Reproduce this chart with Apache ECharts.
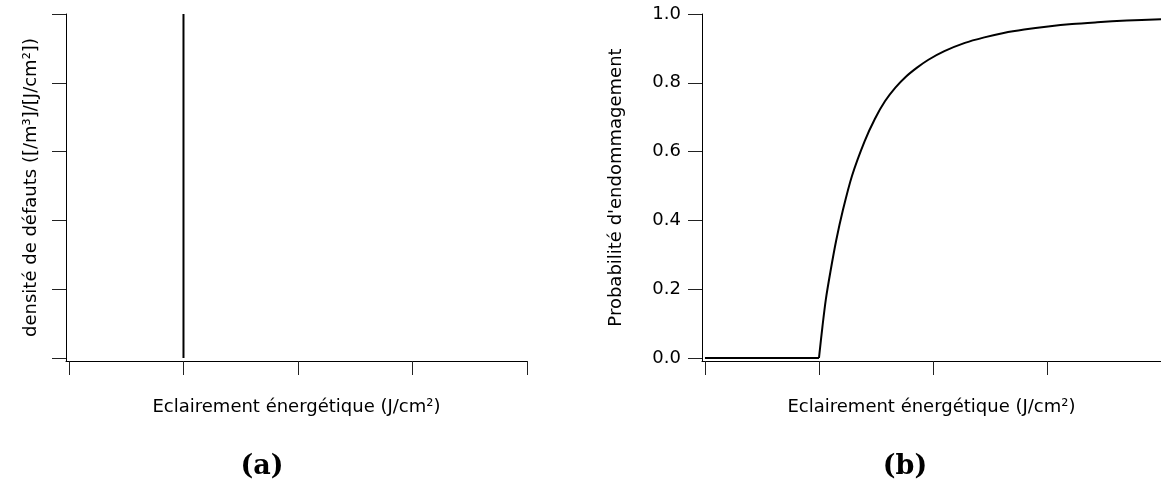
<!DOCTYPE html>
<html>
<head>
<meta charset="utf-8">
<script src="https://cdn.jsdelivr.net/npm/echarts@6/dist/echarts.min.js"></script>
<style>
  html, body { margin: 0; padding: 0; background: #fff; }
  #chart { width: 1161px; height: 482px; }
</style>
</head>
<body>
<div id="chart"></div>
<script>
// ---- data ----
const xTicks = [0, 1, 2, 3, 4];
const yTicks = [0, 0.2, 0.4, 0.6, 0.8, 1.0];
const xAxisTitle = 'Eclairement énergétique (J/cm²)';
const yTitleA = 'densité de défauts ([/m³]/[J/cm²])';
const yTitleB = "Probabilité d'endommagement";
const captions = ['(a)', '(b)'];

// panel (a): density is a Dirac spike at x = 1
const densityX = [1, 1];
const densityY = [0, 1];

// panel (b): damage probability
const flatX = [0, 1];
const flatY = [0, 0];
const probX = [1.0, 1.03, 1.06, 1.10, 1.15, 1.21, 1.29, 1.40, 1.49, 1.58, 1.67, 1.76, 1.86, 1.96, 2.10, 2.28, 2.45, 2.62, 2.80, 3.01, 3.22, 3.44, 3.70, 4.0];
const probY = [0, 0.09, 0.17, 0.25, 0.34, 0.43, 0.53, 0.63, 0.695, 0.747, 0.786, 0.817, 0.844, 0.867, 0.892, 0.916, 0.932, 0.945, 0.955, 0.964, 0.971, 0.976, 0.981, 0.985];

const zip = (xs, ys) => xs.map((x, i) => [x, ys[i]]);

const FONT = 'DejaVu Sans';
const axisColor = '#000';

function xAxisDef(gridIndex, min, max) {
  return {
    type: 'value', gridIndex, min, max,
    axisLine: { show: true, onZero: false, lineStyle: { color: axisColor, width: 1 } },
    axisTick: { show: true, customValues: xTicks, length: 14, inside: false, lineStyle: { color: '#222', width: 1 } },
    axisLabel: { show: false },
    splitLine: { show: false },
    name: xAxisTitle, nameLocation: 'middle', nameGap: 37,
    nameTextStyle: { fontFamily: FONT, fontSize: 18, color: '#000' }
  };
}
function yAxisDef(gridIndex, min, max, showLabels, title, gap) {
  return {
    type: 'value', gridIndex, min, max,
    axisLine: { show: true, onZero: false, lineStyle: { color: axisColor, width: 1 } },
    axisTick: { show: true, customValues: yTicks, length: 14, lineStyle: { color: '#222', width: 1 } },
    axisLabel: {
      show: showLabels, customValues: yTicks, margin: 21,
      fontFamily: FONT, fontSize: 18, color: '#000',
      formatter: v => v.toFixed(1)
    },
    splitLine: { show: false },
    name: title, nameLocation: 'middle', nameGap: gap,
    nameTextStyle: { fontFamily: FONT, fontSize: 18, color: '#000' }
  };
}

const chart = echarts.init(document.getElementById('chart'), null, { renderer: 'canvas' });
chart.setOption({
  animation: false,
  backgroundColor: '#fff',
  grid: [
    { left: 66, width: 461, top: 14, height: 347 },
    { left: 702, right: -3, top: 14, height: 347 }
  ],
  xAxis: [xAxisDef(0, -0.026, 4), xAxisDef(1, -0.026, 4)],
  yAxis: [
    yAxisDef(0, -0.0087, 1, false, yTitleA, 26),
    yAxisDef(1, -0.0087, 1, true, yTitleB, 77)
  ],
  series: [
    {
      type: 'line', xAxisIndex: 0, yAxisIndex: 0, data: zip(densityX, densityY),
      symbol: 'none', lineStyle: { color: '#000', width: 2 }
    },
    {
      type: 'line', xAxisIndex: 1, yAxisIndex: 1, data: zip(flatX, flatY),
      symbol: 'none', lineStyle: { color: '#000', width: 2 }
    },
    {
      type: 'line', xAxisIndex: 1, yAxisIndex: 1, data: zip(probX, probY),
      symbol: 'none', smooth: 0.3,
      lineStyle: { color: '#000', width: 2 }
    }
  ],
  graphic: [
    { type: 'text', x: 262, y: 467, style: { text: captions[0], textAlign: 'center', textVerticalAlign: 'middle',
      font: 'bold 27px "DejaVu Serif"', fill: '#000' } },
    { type: 'text', x: 905, y: 467, style: { text: captions[1], textAlign: 'center', textVerticalAlign: 'middle',
      font: 'bold 27px "DejaVu Serif"', fill: '#000' } }
  ]
});
</script>
</body>
</html>
